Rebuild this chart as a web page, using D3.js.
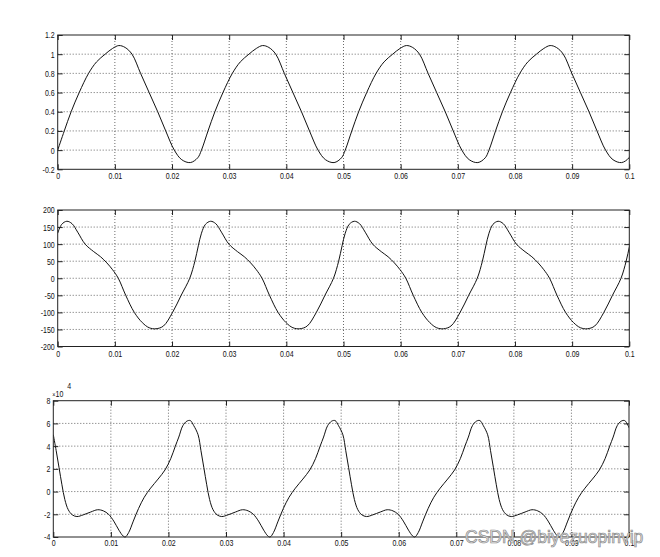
<!DOCTYPE html>
<html><head><meta charset="utf-8">
<script src="https://cdn.jsdelivr.net/npm/d3@7"></script>
<style>
body{margin:0;background:#fff}
text{font-family:"Liberation Sans",Arial,sans-serif}
</style>
</head><body>
<svg id="chart" width="660" height="557"></svg>
<script>
// ---------- data (time in ms) ----------
const xTickValuesMs = [0,10,20,30,40,50,60,70,80,90,100];
const xTickLabels = ["0","0.01","0.02","0.03","0.04","0.05","0.06","0.07","0.08","0.09","0.1"];

const y1Ticks = [-0.2,0,0.2,0.4,0.6,0.8,1,1.2];
const y1TickLabels = ["-0.2","0","0.2","0.4","0.6","0.8","1","1.2"];
const y2Ticks = [-200,-150,-100,-50,0,50,100,150,200];
const y2TickLabels = ["-200","-150","-100","-50","0","50","100","150","200"];
const y3Ticks = [-4,-2,0,2,4,6,8];
const y3TickLabels = ["-4","-2","0","2","4","6","8"];
const y3Exponent = "4";

const s1TimeMs = [0,1.15,2.35,3.76,5.4,6.8,8.3,9.6,10.7,11.8,13.0,14.5,16.0,17.5,18.9,20.4,21.7,23.2,24.5,
25.15,26.3,27.5,28.91,30.55,31.95,33.45,34.75,35.85,36.95,38.15,39.65,41.15,42.65,44.05,45.55,46.85,48.35,49.65,
50.3,51.45,52.65,54.06,55.7,57.1,58.6,59.9,61.0,62.1,63.3,64.8,66.3,67.8,69.2,70.7,72.0,73.5,74.8,
75.45,76.6,77.8,79.21,80.85,82.25,83.75,85.05,86.15,87.25,88.45,89.95,91.45,92.95,94.35,95.85,97.15,98.65,99.95,100.6];
const s1Values = [0,0.20,0.40,0.60,0.80,0.92,1.00,1.06,1.09,1.07,1.00,0.80,0.60,0.40,0.20,0.00,-0.10,-0.13,-0.08,
0,0.20,0.40,0.60,0.80,0.92,1.00,1.06,1.09,1.07,1.00,0.80,0.60,0.40,0.20,0.00,-0.10,-0.13,-0.08,
0,0.20,0.40,0.60,0.80,0.92,1.00,1.06,1.09,1.07,1.00,0.80,0.60,0.40,0.20,0.00,-0.10,-0.13,-0.08,
0,0.20,0.40,0.60,0.80,0.92,1.00,1.06,1.09,1.07,1.00,0.80,0.60,0.40,0.20,0.00,-0.10,-0.13,-0.08,0];

const s2TimeMs = [0,0.7,1.6,2.5,3.5,4.8,6.3,7.5,8.6,9.6,10.6,11.9,13.4,14.8,16.0,17.2,18.5,20.1,21.6,23.1,24.0,24.6,
25.15,25.85,26.75,27.65,28.65,29.95,31.45,32.65,33.75,34.75,35.75,37.05,38.55,39.95,41.15,42.35,43.65,45.25,46.75,48.25,49.15,49.75,
50.3,51.0,51.9,52.8,53.8,55.1,56.6,57.8,58.9,59.9,60.9,62.2,63.7,65.1,66.3,67.5,68.8,70.4,71.9,73.4,74.3,74.9,
75.45,76.15,77.05,77.95,78.95,80.25,81.75,82.95,84.05,85.05,86.05,87.35,88.85,90.25,91.45,92.65,93.95,95.55,97.05,98.55,99.45,100.05,100.6];
const s2Values = [132,158,167,160,135,100,78,63,45,25,0,-50,-100,-130,-145,-148,-140,-100,-50,0,50,95,
132,158,167,160,135,100,78,63,45,25,0,-50,-100,-130,-145,-148,-140,-100,-50,0,50,95,
132,158,167,160,135,100,78,63,45,25,0,-50,-100,-130,-145,-148,-140,-100,-50,0,50,95,
132,158,167,160,135,100,78,63,45,25,0,-50,-100,-130,-145,-148,-140,-100,-50,0,50,95,132];

const s3TimeMs = [0,0.5,1.0,1.5,2.0,2.6,3.3,4.1,5.2,6.5,7.7,8.7,9.6,10.5,11.4,12.1,12.5,13.1,13.9,14.8,15.8,16.9,18.2,19.4,20.4,21.2,21.8,22.5,23.2,23.8,24.4,
25.15,25.65,26.15,26.65,27.15,27.75,28.45,29.25,30.35,31.65,32.85,33.85,34.75,35.65,36.55,37.25,37.65,38.25,39.05,39.95,40.95,42.05,43.35,44.55,45.55,46.35,46.95,47.65,48.35,48.95,49.55,
50.3,50.8,51.3,51.8,52.3,52.9,53.6,54.4,55.5,56.8,58.0,59.0,59.9,60.8,61.7,62.4,62.8,63.4,64.2,65.1,66.1,67.2,68.5,69.7,70.7,71.5,72.1,72.8,73.5,74.1,74.7,
75.45,75.95,76.45,76.95,77.45,78.05,78.75,79.55,80.65,81.95,83.15,84.15,85.05,85.95,86.85,87.55,87.95,88.55,89.35,90.25,91.25,92.35,93.65,94.85,95.85,96.65,97.25,97.95,98.65,99.25,99.85,100.6];
const s3Values = [5.0,3.6,2.1,0.6,-0.7,-1.6,-2.05,-2.2,-2.05,-1.8,-1.6,-1.7,-2.0,-2.6,-3.4,-3.9,-4.0,-3.6,-2.6,-1.5,-0.5,0.3,1.1,1.9,2.9,4.0,4.8,5.8,6.2,6.25,5.8,
5.0,3.6,2.1,0.6,-0.7,-1.6,-2.05,-2.2,-2.05,-1.8,-1.6,-1.7,-2.0,-2.6,-3.4,-3.9,-4.0,-3.6,-2.6,-1.5,-0.5,0.3,1.1,1.9,2.9,4.0,4.8,5.8,6.2,6.25,5.8,
5.0,3.6,2.1,0.6,-0.7,-1.6,-2.05,-2.2,-2.05,-1.8,-1.6,-1.7,-2.0,-2.6,-3.4,-3.9,-4.0,-3.6,-2.6,-1.5,-0.5,0.3,1.1,1.9,2.9,4.0,4.8,5.8,6.2,6.25,5.8,
5.0,3.6,2.1,0.6,-0.7,-1.6,-2.05,-2.2,-2.05,-1.8,-1.6,-1.7,-2.0,-2.6,-3.4,-3.9,-4.0,-3.6,-2.6,-1.5,-0.5,0.3,1.1,1.9,2.9,4.0,4.8,5.8,6.2,6.25,5.8,5.0];

// ---------- layout ----------
const panels = [
  {t:s1TimeMs, v:s1Values, ticks:y1Ticks, labels:y1TickLabels, left:57.7, right:629.3, top:35, bottom:169.3, xlabOff:10},
  {t:s2TimeMs, v:s2Values, ticks:y2Ticks, labels:y2TickLabels, left:57.7, right:629.3, top:210, bottom:346.5, xlabOff:11},
  {t:s3TimeMs, v:s3Values, ticks:y3Ticks, labels:y3TickLabels, left:53.3, right:629, top:400.7, bottom:537, xlabOff:9, exp:y3Exponent}
];
const SX = 0.78;     // horizontal squeeze of tick text
const FS = 9;
const svg = d3.select("#chart");

panels.forEach((p,i) => {
  const x = d3.scaleLinear().domain([0,100]).range([p.left,p.right]);
  const y = d3.scaleLinear().domain([p.ticks[0], p.ticks[p.ticks.length-1]]).range([p.bottom,p.top]);
  const g = svg.append("g");
  const W = p.right-p.left, H = p.bottom-p.top;

  // grid
  g.append("g").selectAll("line").data(xTickValuesMs.slice(1,-1)).join("line")
    .attr("x1",d=>x(d)).attr("x2",d=>x(d)).attr("y1",p.top).attr("y2",p.bottom)
    .attr("stroke","#444").attr("stroke-width",0.8).attr("stroke-dasharray","1,2");
  g.append("g").selectAll("line").data(p.ticks.slice(1,-1)).join("line")
    .attr("x1",p.left).attr("x2",p.right).attr("y1",d=>y(d)).attr("y2",d=>y(d))
    .attr("stroke","#444").attr("stroke-width",0.8).attr("stroke-dasharray","1,2");

  // data line
  const clipId = "clip"+i;
  svg.append("clipPath").attr("id",clipId).append("rect")
    .attr("x",p.left).attr("y",p.top-1).attr("width",W).attr("height",H+2);
  const pts = p.t.map((t,k)=>[t,p.v[k]]);
  g.append("path").datum(pts).attr("clip-path",`url(#${clipId})`)
    .attr("fill","none").attr("stroke","#111").attr("stroke-width",1)
    .attr("d", d3.line().x(d=>x(d[0])).y(d=>y(d[1])).curve(d3.curveCatmullRom.alpha(0.5)));

  // axes (inward ticks on all four sides)
  const lblMap = new Map(p.ticks.map((d,k)=>[d,p.labels[k]]));
  const xlMap = new Map(xTickValuesMs.map((d,k)=>[d,xTickLabels[k]]));
  const bx = g.append("g").attr("transform",`translate(0,${p.bottom})`)
    .call(d3.axisBottom(x).tickValues(xTickValuesMs).tickSize(-5).tickSizeOuter(0).tickPadding(0)
      .tickFormat(d=>xlMap.get(d)));
  bx.selectAll("text").attr("y", p.xlabOff).attr("dy","0").attr("transform",`scale(${SX},1)`);
  const tx = g.append("g").attr("transform",`translate(0,${p.top})`)
    .call(d3.axisTop(x).tickValues(xTickValuesMs).tickSize(-5).tickSizeOuter(0).tickFormat(""));
  const ly = g.append("g").attr("transform",`translate(${p.left},0)`)
    .call(d3.axisLeft(y).tickValues(p.ticks).tickSize(-5).tickSizeOuter(0).tickFormat(d=>lblMap.get(d)));
  ly.selectAll("text").attr("x", -3/SX).attr("dy","0.33em").attr("transform",`scale(${SX},1)`);
  const ry = g.append("g").attr("transform",`translate(${p.right},0)`)
    .call(d3.axisRight(y).tickValues(p.ticks).tickSize(-5).tickSizeOuter(0).tickFormat(""));
  [bx,tx,ly,ry].forEach(a=>{
    a.select(".domain").remove();
    a.selectAll("line").attr("stroke","#222");
    a.selectAll("text").attr("font-size",FS).attr("fill","#111")
      .attr("font-family",'"Liberation Sans",Arial,sans-serif');
  });

  // box
  g.append("rect").attr("x",p.left).attr("y",p.top).attr("width",W).attr("height",H)
    .attr("fill","none").attr("stroke","#222").attr("stroke-width",1);

  if (p.exp) {
    const e = g.append("text").attr("transform",`translate(${p.left-1},${p.top-4}) scale(${SX},1)`)
      .attr("font-size",FS).attr("fill","#111");
    e.append("tspan").text("\u00d7").attr("font-size",7);
    e.append("tspan").text("10");
    g.append("text").attr("transform",`translate(${p.left+14},${p.top-12}) scale(${SX},1)`)
      .attr("font-size",FS).attr("fill","#111").text(p.exp);
  }
});

// watermark
svg.append("text").attr("x",465).attr("y",543).attr("font-size",17.5)
  .attr("fill","#e6e6e6").attr("stroke","#8c8c8c").attr("stroke-width",0.7)
  .text("CSDN @biyezuopinvip");
</script>
</body></html>
